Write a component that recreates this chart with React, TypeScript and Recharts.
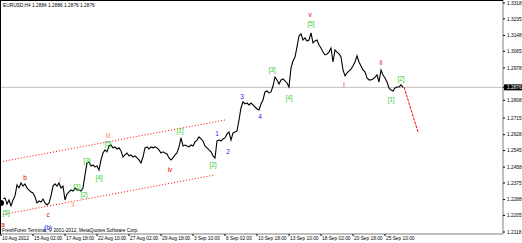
import React from "react";
import { ComposedChart, Line, XAxis, YAxis, ReferenceLine, Scatter } from "recharts";

const closes = [
  1.2270,1.2291,1.2296,1.2265,1.2286,1.2255,1.2286,1.2307,1.2365,1.2349,1.2375,1.2359,1.2370,1.2349,1.2338,1.2328,
  1.2323,1.2302,1.2270,1.2281,1.2275,1.2291,1.2270,1.2260,1.2270,1.2307,1.2359,1.2370,1.2359,1.2375,1.2349,1.2359,
  1.2286,1.2317,1.2328,1.2338,1.2333,1.2349,1.2338,1.2338,1.2333,1.2349,1.2417,1.2480,1.2485,1.2464,1.2469,1.2459,
  1.2464,1.2443,1.2496,1.2532,1.2548,1.2538,1.2569,1.2574,1.2559,1.2564,1.2553,1.2559,1.2543,1.2511,1.2522,1.2532,
  1.2517,1.2522,1.2511,1.2517,1.2506,1.2496,1.2480,1.2511,1.2559,1.2564,1.2553,1.2564,1.2559,1.2564,1.2559,1.2548,
  1.2532,1.2538,1.2532,1.2527,1.2506,1.2496,1.2506,1.2522,1.2532,1.2564,1.2611,1.2569,1.2574,1.2569,1.2564,1.2574,
  1.2569,1.2590,1.2600,1.2616,1.2606,1.2595,1.2569,1.2559,1.2548,1.2538,1.2517,1.2506,1.2595,1.2600,1.2595,1.2606,
  1.2611,1.2632,1.2642,1.2600,1.2637,1.2642,1.2648,1.2705,1.2768,1.2800,1.2789,1.2794,1.2784,1.2794,1.2784,1.2773,
  1.2763,1.2758,1.2789,1.2810,1.2852,1.2857,1.2847,1.2852,1.2883,1.2930,1.2915,1.2894,1.2915,1.2920,1.2910,1.2899,
  1.2878,1.2978,1.3014,1.3035,1.3088,1.3145,1.3156,1.3124,1.3135,1.3119,1.3124,1.3161,1.3109,1.3119,1.3124,1.3098,
  1.3082,1.3061,1.3046,1.3051,1.3061,1.3082,1.3009,1.3072,1.3061,1.3051,1.3035,1.2967,1.2936,1.2951,1.2962,1.2972,
  1.2988,1.3009,1.3041,1.3009,1.2988,1.2967,1.2957,1.2925,1.2915,1.2915,1.2920,1.2930,1.2941,1.2904,1.2967,1.2941,
  1.2925,1.2904,1.2873,1.2862,1.2857,1.2873,1.2878,1.2878,1.2889,1.2876,
];

const timeLabels = [
  "10 Aug 2012","15 Aug 02:00","17 Aug 18:00","22 Aug 10:00","27 Aug 02:00","29 Aug 18:00",
  "3 Sep 10:00","6 Sep 02:00","10 Sep 18:00","13 Sep 10:00","18 Sep 02:00","20 Sep 18:00","25 Sep 10:00",
];
const barsPerLabel = 16;

const priceTicks = [1.3318,1.3235,1.3148,1.3065,1.2978,1.2876,1.2808,1.2715,1.2628,1.2545,1.2458,1.2375,1.2288,1.2205,1.2118];
const lastPrice = 1.2876;

const GREEN = "#33cc33";
const RED = "#e00000";
const ORANGE = "#ff7f50";
const BLUE = "#2020ff";
const PINK = "#ff80c0";

const waveLabels = [
  { i: 2.5, p: 1.2218, t: "[5]", col: GREEN },
  { i: 1, p: 1.2155, t: "a", col: RED },
  { i: 12, p: 1.2401, t: "b", col: RED },
  { i: 23.5, p: 1.2207, t: "c", col: RED },
  { i: 23.5, p: 1.2139, t: "(b)", col: BLUE },
  { i: 29.5, p: 1.2390, t: "i", col: PINK },
  { i: 36, p: 1.2260, t: "ii", col: ORANGE },
  { i: 38, p: 1.2354, t: "[1]", col: GREEN },
  { i: 41.5, p: 1.2312, t: "[2]", col: GREEN },
  { i: 43, p: 1.2490, t: "[3]", col: GREEN },
  { i: 49, p: 1.2401, t: "[4]", col: GREEN },
  { i: 53.5, p: 1.2579, t: "[5]", col: GREEN },
  { i: 53.5, p: 1.2621, t: "iii", col: ORANGE },
  { i: 84.5, p: 1.2443, t: "iv", col: RED },
  { i: 89.5, p: 1.2647, t: "[1]", col: GREEN },
  { i: 106, p: 1.2469, t: "[2]", col: GREEN },
  { i: 108, p: 1.2632, t: "1", col: BLUE },
  { i: 113.5, p: 1.2537, t: "2", col: BLUE },
  { i: 120.5, p: 1.2825, t: "3", col: BLUE },
  { i: 129.5, p: 1.2721, t: "4", col: BLUE },
  { i: 135.5, p: 1.2967, t: "[3]", col: GREEN },
  { i: 144, p: 1.2820, t: "[4]", col: GREEN },
  { i: 154.5, p: 1.3255, t: "v", col: RED },
  { i: 155, p: 1.3208, t: "[5]", col: GREEN },
  { i: 171.5, p: 1.2888, t: "i", col: RED },
  { i: 190, p: 1.3004, t: "ii", col: RED },
  { i: 195, p: 1.2810, t: "[1]", col: GREEN },
  { i: 200, p: 1.2920, t: "[2]", col: GREEN },
];

const channelUpper = [{ i: -0.5, p: 1.2485 }, { i: 112, p: 1.2705 }];
const channelLower = [{ i: -0.5, p: 1.2207 }, { i: 107, p: 1.2417 }];
const projection = [{ i: 201.5, p: 1.2878 }, { i: 208.5, p: 1.2642 }];

const bars = closes.map((c, i) => ({ i, c }));
const xTicks = timeLabels.map((_, k) => k * barsPerLabel);

const FONT = "'Liberation Sans', Arial, sans-serif";

const YTick = (props: any) => {
  const { x, y, payload } = props;
  const v = payload.value;
  const s = v.toFixed(4);
  if (Math.abs(v - lastPrice) < 1e-6) {
    return (
      <g>
        <rect x={x - 3} y={y - 3} width={19} height={6} fill="#000" />
        <text x={x} y={y} dy={1.8} fontSize={4.8} fill="#fff" fontFamily={FONT}>{s}</text>
      </g>
    );
  }
  return <text x={x} y={y} dy={1.8} fontSize={4.8} fill="#000" fontFamily={FONT}>{s}</text>;
};

const XTick = (props: any) => {
  const { x, y, payload } = props;
  const idx = Math.round(payload.value / barsPerLabel);
  return <text x={x + 1} y={y + 4} fontSize={4.8} fill="#000" fontFamily={FONT}>{timeLabels[idx]}</text>;
};

const LabelShape = (props: any) => {
  const { cx, cy, payload } = props;
  return (
    <text x={cx} y={cy} dy={2.2} textAnchor="middle" fontSize={6.5} fill={payload.col} fontFamily={FONT}>
      {payload.t}
    </text>
  );
};

export default function App() {
  return (
    <div style={{ position: "fixed", left: 0, top: 0, width: 522, height: 243, background: "#fff" }}>
      <ComposedChart width={522} height={243} data={bars} margin={{ top: 0, right: 0, bottom: 0, left: 0 }}>
        <XAxis
          dataKey="i"
          type="number"
          domain={[-0.5, 251]}
          ticks={xTicks}
          interval={0}
          height={9}
          tickSize={2}
          tickMargin={0}
          tick={<XTick />}
          axisLine={{ stroke: "#808080" }}
          tickLine={{ stroke: "#000" }}
          allowDataOverflow
        />
        <YAxis
          orientation="right"
          type="number"
          domain={[1.21076, 1.33337]}
          ticks={priceTicks}
          interval={0}
          width={19}
          tickSize={2}
          tickMargin={2}
          tick={<YTick />}
          axisLine={{ stroke: "#808080" }}
          tickLine={{ stroke: "#000" }}
          allowDataOverflow
        />
        <ReferenceLine y={lastPrice} stroke="#c0c0c0" strokeWidth={1} ifOverflow="visible" />
        <ReferenceLine
          segment={[{ x: channelUpper[0].i, y: channelUpper[0].p }, { x: channelUpper[1].i, y: channelUpper[1].p }]}
          stroke="#ff0000" strokeDasharray="1 2" ifOverflow="visible"
        />
        <ReferenceLine
          segment={[{ x: channelLower[0].i, y: channelLower[0].p }, { x: channelLower[1].i, y: channelLower[1].p }]}
          stroke="#ff0000" strokeDasharray="1 2" ifOverflow="visible"
        />
        <ReferenceLine
          segment={[{ x: projection[0].i, y: projection[0].p }, { x: projection[1].i, y: projection[1].p }]}
          stroke="#ff0000" strokeDasharray="3 1" ifOverflow="visible"
        />
        <Line dataKey="c" type="linear" stroke="#000" strokeWidth={1.1} dot={false} isAnimationActive={false} />
        <Scatter data={waveLabels} dataKey="p" shape={<LabelShape />} isAnimationActive={false} />
      </ComposedChart>
      <div style={{ position: "absolute", left: 0, top: 0, width: 503, height: 234, borderTop: "1px solid #000", borderLeft: "1px solid #000", boxSizing: "border-box", pointerEvents: "none" }} />
      <svg width={522} height={243} style={{ position: "absolute", left: 0, top: 0, pointerEvents: "none" }}>
        <text x={3} y={7} fontSize={4.8} fill="#000" fontFamily={FONT}>EURUSD,H4  1.2884 1.2886 1.2876 1.2876</text>
        <text x={2} y={232} fontSize={4.8} fill="#000" fontFamily={FONT}>FreshForex Terminal, © 2001-2012, MetaQuotes Software Corp.</text>
      </svg>
    </div>
  );
}
